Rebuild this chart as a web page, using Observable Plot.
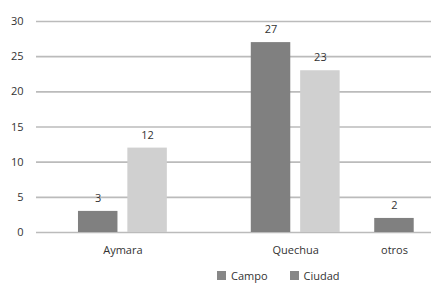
<!DOCTYPE html>
<html><head><meta charset="utf-8">
<script src="https://cdn.jsdelivr.net/npm/d3@7"></script>
<script src="https://cdn.jsdelivr.net/npm/@observablehq/plot@0.6"></script>
<style>
body{margin:0;background:#fff;font-family:"Open Sans",sans-serif;}
#legend{height:26px;display:flex;align-items:center;padding-left:217px;font-size:11px;color:#333;}
.item{display:flex;align-items:center;margin-right:22px;}
.sw{width:9px;height:9px;margin-right:5px;display:inline-block;}
</style></head><body><div id="chart"></div><div id="legend"></div>
<script>
const categories = ["Aymara", "Quechua", "otros"];
const series = ["Campo", "Ciudad"];
const campo = [3, 27, 2];
const ciudad = [12, 23, null];
const yTicks = [0, 5, 10, 15, 20, 25, 30];
const xTickLabels = ["Aymara", "Quechua", "otros"];

const barColors = ["#808080", "#d0d0d0"];
const legendColors = ["#878787", "#878787"];

const rows = [];
categories.forEach((c, i) => {
  [campo, ciudad].forEach((vals, j) => {
    if (vals[i] != null) rows.push({category: c, series: series[j], value: vals[i], key: c + "·" + series[j]});
  });
});

// layout slots (half bar pitch) to reproduce the irregular spacing
const slots = ["_0","_1","Aymara·Campo","Aymara","Aymara·Ciudad","_5","_6","_7","_8",
  "Quechua·Campo","Quechua","Quechua·Ciudad","_12","_13","otros·Campo","_15"];
const xTicks = ["Aymara", "Quechua", "otros·Campo"];

const chart = Plot.plot({
  width: 439, height: 262,
  marginLeft: 36, marginRight: 8, marginTop: 21, marginBottom: 30,
  style: {fontFamily: "Open Sans", fontSize: "11px", color: "#333", background: "#fff"},
  x: {type: "band", domain: slots, padding: 0, round: false, ticks: xTicks, tickSize: 0, tickPadding: 14,
      tickFormat: d => d.split("·")[0], label: null},
  y: {domain: [0, 30], ticks: yTicks, tickSize: 0, tickPadding: 13, label: null},
  color: {domain: series, range: barColors},
  marks: [
    Plot.ruleY(yTicks, {stroke: "#bbbbbb", strokeWidth: 1.6}),
    Plot.barY(rows, {x: "key", y: "value", fill: "series", insetLeft: -7.4, insetRight: -7.4}),
    Plot.text(rows, {x: "key", y: "value", text: d => String(d.value), dy: -13, fill: "#333"})
  ]
});
document.getElementById("chart").appendChild(chart);

const legend = document.getElementById("legend");
series.forEach((s, i) => {
  const it = document.createElement("div");
  it.className = "item";
  it.innerHTML = `<span class="sw" style="background:${legendColors[i]}"></span><span>${s}</span>`;
  legend.appendChild(it);
});
</script></body></html>
